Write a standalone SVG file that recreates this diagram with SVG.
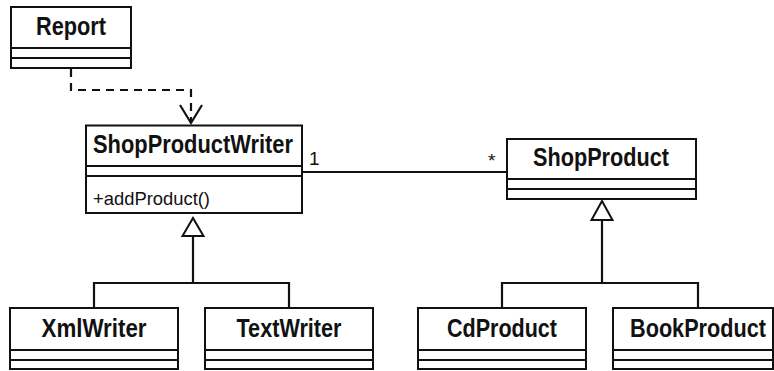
<svg xmlns="http://www.w3.org/2000/svg" width="774" height="371" viewBox="0 0 774 371">
<style>
.box{fill:#fff;stroke:#111;stroke-width:2}
.sep{stroke:#111;stroke-width:2}
.name{font-family:"Liberation Sans",Arial,sans-serif;font-weight:bold;font-size:25px;fill:#111;text-anchor:middle}
.op{font-family:"Liberation Sans",Arial,sans-serif;font-size:19px;fill:#111}
.line{fill:none;stroke:#111;stroke-width:2.2}
.dash{fill:none;stroke:#111;stroke-width:2.2;stroke-dasharray:8 6}
.tri{fill:#fff;stroke:#111;stroke-width:2;stroke-linejoin:miter}
</style>
<rect width="774" height="371" fill="#fff"/>
<g id="connectors">
<path class="dash" d="M71 69 V90 H191 V123"/>
<path class="line" d="M180 105 L191 123 L202 105"/>
<path class="line" d="M302 172 H507"/>
<path class="line" d="M193 236 V283 M94 308 V283 H289 V308"/>
<polygon class="tri" points="193,218 182.5,236 203.5,236"/>
<path class="line" d="M602 220 V283 M502 308 V283 H698 V308"/>
<polygon class="tri" points="602,201 591.5,220 612.5,220"/>
<text class="op" x="309" y="165">1</text>
<text class="op" x="488" y="167">*</text>
</g>
<g id="Report">
<rect class="box" x="11" y="7" width="120" height="61"/>
<line class="sep" x1="11" y1="48" x2="131" y2="48"/>
<line class="sep" x1="11" y1="58" x2="131" y2="58"/>
<text class="name" x="71" y="35" textLength="70" lengthAdjust="spacingAndGlyphs">Report</text>
</g>
<g id="ShopProductWriter">
<rect class="box" x="86" y="125.5" width="216" height="87.5"/>
<line class="sep" x1="86" y1="166" x2="302" y2="166"/>
<line class="sep" x1="86" y1="176" x2="302" y2="176"/>
<text class="name" x="193" y="153" textLength="200" lengthAdjust="spacingAndGlyphs">ShopProductWriter</text>
<text class="op" x="93" y="205" textLength="117" lengthAdjust="spacingAndGlyphs">+addProduct()</text>
</g>
<g id="ShopProduct">
<rect class="box" x="507" y="139" width="189" height="60"/>
<line class="sep" x1="507" y1="179" x2="696" y2="179"/>
<line class="sep" x1="507" y1="189" x2="696" y2="189"/>
<text class="name" x="601" y="166" textLength="136" lengthAdjust="spacingAndGlyphs">ShopProduct</text>
</g>
<g id="XmlWriter">
<rect class="box" x="10" y="308" width="168" height="61"/>
<line class="sep" x1="10" y1="350" x2="178" y2="350"/>
<line class="sep" x1="10" y1="360" x2="178" y2="360"/>
<text class="name" x="94" y="337" textLength="105" lengthAdjust="spacingAndGlyphs">XmlWriter</text>
</g>
<g id="TextWriter">
<rect class="box" x="205" y="308" width="168" height="61"/>
<line class="sep" x1="205" y1="350" x2="373" y2="350"/>
<line class="sep" x1="205" y1="360" x2="373" y2="360"/>
<text class="name" x="289" y="337" textLength="105" lengthAdjust="spacingAndGlyphs">TextWriter</text>
</g>
<g id="CdProduct">
<rect class="box" x="418" y="308" width="168" height="61"/>
<line class="sep" x1="418" y1="350" x2="586" y2="350"/>
<line class="sep" x1="418" y1="360" x2="586" y2="360"/>
<text class="name" x="502" y="337" textLength="110" lengthAdjust="spacingAndGlyphs">CdProduct</text>
</g>
<g id="BookProduct">
<rect class="box" x="613" y="308" width="160" height="61"/>
<line class="sep" x1="613" y1="350" x2="773" y2="350"/>
<line class="sep" x1="613" y1="360" x2="773" y2="360"/>
<text class="name" x="698" y="337" textLength="136" lengthAdjust="spacingAndGlyphs">BookProduct</text>
</g>
</svg>
